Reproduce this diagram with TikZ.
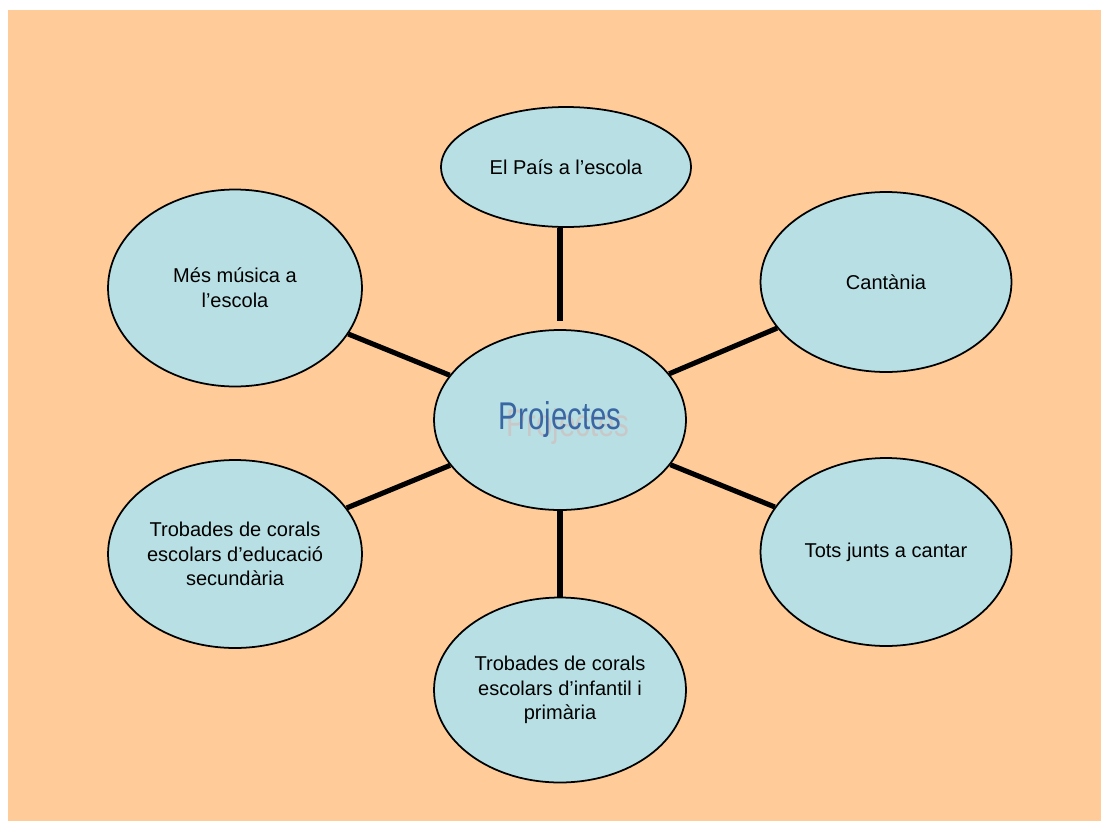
\documentclass[tikz,border=0pt]{standalone}
\usepackage{fontspec}
\setmainfont{Liberation Sans}
\usetikzlibrary{shapes.geometric}

\definecolor{peach}{HTML}{FFCC99}
\definecolor{bubble}{HTML}{B8E0E4}
\definecolor{titleblue}{HTML}{3A67A3}
\definecolor{shadowgrey}{HTML}{C8C8C8}

\begin{document}
\begin{tikzpicture}
          [x=0.02cm,y=-0.02cm,
          project/.style={ellipse,draw=black,fill=bubble,line width=1pt,inner sep=0pt,
            align=center,font=\fontsize{11.4}{14}\selectfont},
          title/.style={font=\fontsize{22}{24}\selectfont,xscale=0.76},
          link/.style={line width=2.9pt,black}]
          \useasboundingbox (0,0) rectangle (1101,821);
          \fill [peach] (8,10) rectangle (1101,821);
          \node[project,minimum width=5.04cm,minimum height=3.6cm] (centre) at (560,420) {};
          \node[title,text=shadowgrey] (centreshadow) at (568,427) {Projectes};
          \node[title,text=titleblue] (centretitle) at (560,420) {Projectes};
          \node[project,minimum width=5.0cm,minimum height=2.4cm] (pais) at (566,167) {El País a l’escola};
          \node[project,minimum width=5.08cm,minimum height=3.94cm] (musica) at (235,288) {Més música a\\l’escola};
          \node[project,minimum width=5.02cm,minimum height=3.6cm] (cantania) at (886,282) {Cantània};
          \node[project,minimum width=5.08cm,minimum height=3.76cm] (secundaria) at (235,554) {Trobades de corals\\escolars d’educació\\secundària};
          \node[project,minimum width=5.02cm,minimum height=3.76cm] (junts) at (886,552) {Tots junts a cantar};
          \node[project,minimum width=5.04cm,minimum height=3.7cm] (primaria) at (560,690) {Trobades de corals\\escolars d’infantil i\\primària};
          \draw[link,shorten >=0.16cm] (pais.south -| centre) -- (centre.north);
          \draw[link]  (musica) -- (centre);
          \draw[link]  (cantania) -- (centre);
          \draw[link]  (secundaria) -- (centre);
          \draw[link]  (junts) -- (centre);
          \draw[link]  (primaria) -- (centre);
        \end{tikzpicture}
\end{document}
